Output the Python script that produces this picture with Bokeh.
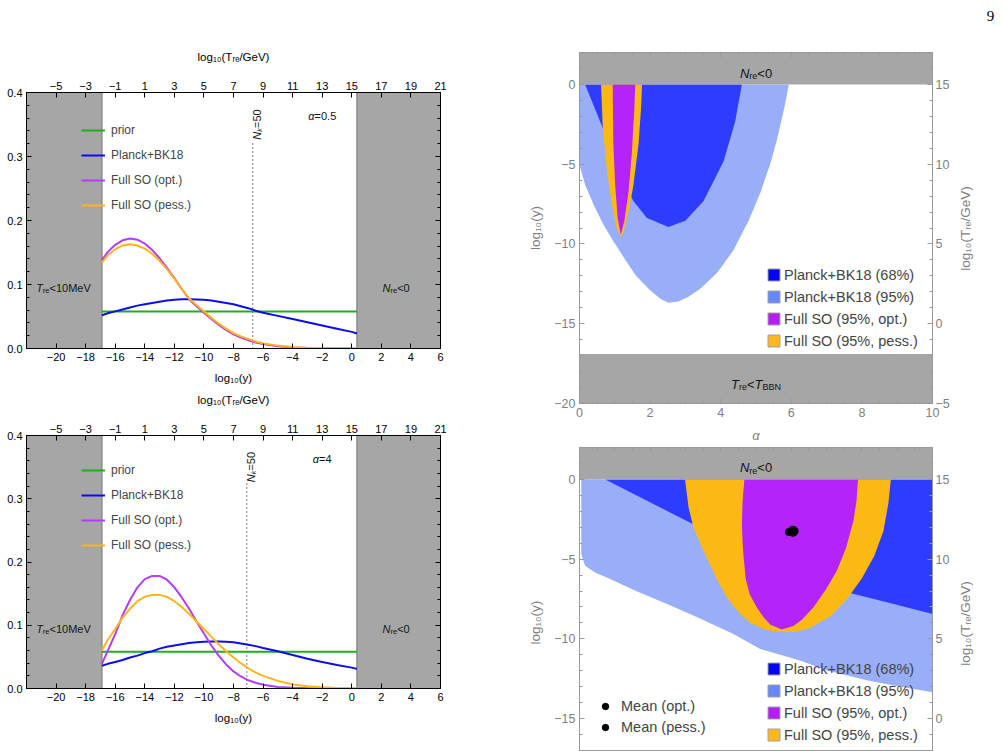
import math
from bokeh.plotting import figure
from bokeh.models import (Range1d, LinearAxis, FixedTicker, Label, Legend, LegendItem,
                          CustomJSTickFormatter)
from bokeh.layouts import row, column
from bokeh.embed import file_html
from bokeh.resources import INLINE

FONT = "Liberation Sans"
NAN = float("nan")

# ---------------- data: left panels (posteriors vs log10 y) ----------------
logy_grid = [-16.9, -16.5, -16, -15.5, -15, -14.5, -14, -13.5, -13, -12.5, -12, -11.5, -11,
             -10.5, -10, -9.5, -9, -8.5, -8, -7.5, -7, -6.5, -6, -5, -4, -3, -2, -1, 0, 0.35]
prior_x = [-16.9, 0.35]
prior_y = [0.058, 0.058]

a05_planck = [0.052, 0.055, 0.058, 0.061, 0.064, 0.067, 0.069, 0.071, 0.073, 0.075, 0.076, 0.077,
              0.077, 0.0765, 0.076, 0.075, 0.073, 0.071, 0.069, 0.066, 0.063, 0.059, 0.056, 0.051,
              0.046, 0.041, 0.036, 0.031, 0.026, 0.0235]
a05_opt = [0.138, 0.151, 0.162, 0.169, 0.172, 0.170, 0.164, 0.154, 0.141, 0.126, 0.110, 0.093,
           0.077, 0.066, 0.056, 0.046, 0.037, 0.029, 0.022, 0.017, 0.013, 0.0095, 0.007, 0.0035,
           0.0015, 0.0007, 0.0003, 0.0002, 0.0001, 0.0001]
a05_pess = [0.134, 0.146, 0.155, 0.161, 0.163, 0.161, 0.156, 0.148, 0.137, 0.124, 0.109, 0.093,
            0.078, 0.068, 0.058, 0.048, 0.039, 0.031, 0.024, 0.019, 0.015, 0.011, 0.008, 0.0045,
            0.0022, 0.0011, 0.0006, 0.0003, 0.0002, 0.0002]

a4_planck = [0.036, 0.039, 0.042, 0.045, 0.049, 0.052, 0.056, 0.059, 0.063, 0.066, 0.068, 0.070,
             0.072, 0.073, 0.074, 0.0745, 0.0745, 0.074, 0.073, 0.071, 0.069, 0.067, 0.064, 0.059,
             0.053, 0.047, 0.042, 0.037, 0.033, 0.031]
a4_opt = [0.039, 0.060, 0.086, 0.116, 0.140, 0.160, 0.173, 0.178, 0.178, 0.172, 0.160, 0.144,
          0.126, 0.106, 0.087, 0.068, 0.052, 0.038, 0.027, 0.019, 0.013, 0.009, 0.006, 0.0025,
          0.001, 0.0004, 0.0002, 0.0001, 0.0, 0.0]
a4_pess = [0.060, 0.077, 0.094, 0.112, 0.126, 0.138, 0.145, 0.148, 0.148, 0.145, 0.138, 0.129,
           0.118, 0.106, 0.094, 0.082, 0.070, 0.059, 0.049, 0.040, 0.032, 0.025, 0.020, 0.012,
           0.0065, 0.0035, 0.0018, 0.0009, 0.0005, 0.0004]

band_tre_left = [-22, -16.9]   # T_re < 10 MeV
band_nre_right = [0.35, 6]     # N_re < 0
nk50 = {"a05": -6.7, "a4": -7.1}
nk50_top = 0.325

left_xticks = [-20, -18, -16, -14, -12, -10, -8, -6, -4, -2, 0, 2, 4, 6]
left_tticks = [-5, -3, -1, 1, 3, 5, 7, 9, 11, 13, 15, 17, 19, 21]
left_yticks = [0, 0.1, 0.2, 0.3, 0.4]

# ---------------- data: right panels (alpha vs log10 y regions) ----------------
tr95_x = [0, 5.93, 5.8, 5.59, 5.4, 5.12, 4.8, 4.36, 3.9, 3.42, 3.1, 2.8, 2.52, 2.3, 2.0, 1.6, 1.3, 0.96, 0.68, 0.40, 0.16, 0]
tr95_y = [0, 0, -1.5, -3.5, -5.0, -6.8, -8.5, -10.4, -11.8, -12.8, -13.3, -13.6, -13.69, -13.45, -12.9, -12.0, -11.0, -9.83, -8.79, -7.54, -6.29, -5.04]
tr68_x = [0.16, 4.6, 4.41, 4.08, 3.51, 3.0, 2.52, 1.91, 1.53, 1.2, 0.9, 0.66]
tr68_y = [0, 0, -2.33, -4.83, -7.33, -8.55, -8.94, -8.38, -7.33, -5.8, -4.2, -2.75]
trpess_x = [0.61, 1.77, 1.75, 1.67, 1.53, 1.39, 1.25, 1.17, 1.04, 0.92, 0.78, 0.66]
trpess_y = [0, 0, -1.29, -3.79, -6.29, -7.96, -9.2, -9.58, -8.9, -7.54, -5.46, -2.75]
tropt_x = [0.94, 1.58, 1.55, 1.48, 1.39, 1.27, 1.17, 1.08, 1.01, 0.96]
tropt_y = [0, 0, -1.71, -4.42, -6.71, -8.58, -9.42, -8.38, -6.29, -3.79]

br95_x = [0.05, 10, 10, 8.9, 8.14, 7.01, 6.25, 5.12, 4.36, 3.4, 2.48, 1.6, 0.87, 0.44, 0.16, 0.05]
br95_y = [0, 0, -13.34, -12.92, -12.6, -11.98, -11.36, -10.63, -9.69, -8.7, -7.81, -7.0, -6.25, -5.84, -5.42, -4.69]
br68_x = [0.73, 10, 10, 8.9, 7.58, 5.4, 3.18]
br68_y = [0, 0, -8.44, -7.81, -7.08, -4.9, -2.77]
brpess_x = [2.99, 8.82, 8.75, 8.61, 8.35, 8.0, 7.58, 7.1, 6.54, 6.2, 5.87, 5.5, 5.21, 4.85, 4.55,
            4.2, 3.89, 3.51, 3.23, 3.09, 3.04]
brpess_y = [0, 0, -1.5, -3.23, -4.8, -6.2, -7.5, -8.6, -9.3, -9.52, -9.59, -9.53, -9.38, -9.0,
            -8.44, -7.5, -6.25, -4.48, -3.02, -1.77, -0.9]
bropt_x = [4.67, 7.89, 7.85, 7.76, 7.55, 7.29, 6.98, 6.63, 6.3, 6.06, 5.73, 5.4, 5.2, 5.02, 4.82,
           4.71, 4.65, 4.62, 4.6, 4.62]
bropt_y = [0, 0, -1.3, -2.6, -4.3, -5.73, -6.9, -8.02, -8.8, -9.19, -9.42, -9.1, -8.6, -8.02,
           -7.2, -6.25, -4.9, -4.0, -2.81, -1.4]
mean_opt = ([5.93], [-3.3])
mean_pess = ([6.05], [-3.25])

nre_band = [0, 2]
bbn_band = [-20, -16.9]
right_xticks = [0, 2, 4, 6, 8, 10]
right_yticks = [0, -5, -10, -15, -20]
right_tticks = [15, 10, 5, 0, -5]

# ---------------- styles ----------------
GRAY_BAND = "#a6a6a6"
C_PRIOR = "#1fae1f"
C_PLANCK = "#0c0cf2"
C_OPT = "#b23cf7"
C_PESS = "#ffb51a"
C_95 = "#98aef9"
C_68 = "#2e3cff"
C_ROPT = "#b424fa"
C_RPESS = "#fdb913"
AX_GRAY = "#9a9a9a"
LAB_GRAY = "#808080"
EM = "\u2003"
PAD = EM * 3 + "\u2002"   # pushes the visible title of the cut-off panel lower
TRE_LABEL = "log₁₀(Tᵣₑ/GeV)"

AW = {' ': 278, '(': 333, ')': 333, '/': 278, '0': 556, '1': 556, '2': 556, '3': 556, '4': 556,
      '5': 556, '6': 556, '7': 556, '8': 556, '9': 556, '<': 584, '=': 584, '.': 278, 'B': 667,
      'G': 778, 'M': 833, 'N': 722, 'T': 611, 'V': 667, 'e': 556, 'r': 333, 'k': 500, 'α': 578}


def tw(t, s):
    return sum(AW.get(c, 556) for c in t) * s / 1000.0


def rich(p, x, y, parts, angle=0.0, color="#151515"):
    total = sum(tw(t, s) for t, s, it, dy in parts)
    main = parts[0][1]
    off = -total / 2.0
    for t, s, it, dy in parts:
        base = -0.35 * main + dy
        if angle == 0:
            xo, yo = off, base
        else:
            xo, yo = -base, off
        p.add_layout(Label(x=x, y=y, x_offset=xo, y_offset=yo, text=t, angle=angle,
                           text_font=FONT, text_font_size=f"{s}px",
                           text_font_style="italic" if it else "normal",
                           text_align="left", text_baseline="alphabetic", text_color=color))
        off += tw(t, s)


def fmt(nd):
    return CustomJSTickFormatter(
        code="return (tick < -1e-9 ? '\\u2212' : '') + Math.abs(tick).toFixed(%d);" % nd)


def blank():
    return CustomJSTickFormatter(code="return '';")


def style_axis(ax, ticks, minor, formatter, color, lab_color, size, standoff=4, tick_in=5, minor_in=3):
    ax.ticker = FixedTicker(ticks=ticks, minor_ticks=minor)
    ax.formatter = formatter
    ax.axis_line_color = color
    ax.major_tick_line_color = color
    ax.minor_tick_line_color = color
    ax.major_tick_in = tick_in
    ax.major_tick_out = 0
    ax.minor_tick_in = minor_in
    ax.minor_tick_out = 0
    ax.major_label_text_font = FONT
    ax.major_label_text_font_size = size
    ax.major_label_text_color = lab_color
    ax.major_label_standoff = standoff
    ax.axis_label_text_font = FONT
    ax.axis_label_text_font_style = "normal"
    ax.axis_label_text_color = lab_color


def left_panel(height, top, bottom, key, alpha_txt, planck, opt, pess):
    p = figure(width=500, height=height, x_range=Range1d(-22, 6), y_range=Range1d(0, 0.4),
               output_backend="svg", toolbar_location=None,
               min_border_left=26, min_border_right=60, min_border_top=top, min_border_bottom=bottom,
               x_axis_location=None, y_axis_location=None)
    p.grid.visible = False
    p.outline_line_color = "black"
    p.extra_x_ranges = {"T": Range1d(-7, 21)}

    yminor = [round(0.02 * i, 2) for i in range(21)]
    xb = LinearAxis(axis_label="log₁₀(y)")
    style_axis(xb, left_xticks, [], fmt(0), "black", "black", "11px", standoff=4)
    xb.axis_label_text_font_size = "11.5px"
    xb.axis_label_standoff = 8
    p.add_layout(xb, "below")
    xt = LinearAxis(x_range_name="T", axis_label=TRE_LABEL)
    style_axis(xt, left_tticks, [], fmt(0), "black", "black", "11px", standoff=3)
    xt.axis_label_text_font_size = "11.5px"
    xt.axis_label_standoff = 16
    p.add_layout(xt, "above")
    yl = LinearAxis()
    style_axis(yl, left_yticks, yminor, fmt(1), "black", "black", "11px", standoff=4)
    p.add_layout(yl, "left")
    yr = LinearAxis()
    style_axis(yr, left_yticks, yminor, blank(), "black", "black", "11px", standoff=0)
    p.add_layout(yr, "right")

    p.quad(left=[band_tre_left[0], band_nre_right[0]], right=[band_tre_left[1], band_nre_right[1]],
           bottom=0, top=0.4, fill_color=GRAY_BAND, line_color=None)
    p.segment(x0=[band_tre_left[1], band_nre_right[0]], y0=0, x1=[band_tre_left[1], band_nre_right[0]],
              y1=0.4, line_color="#8c8c8c", line_width=1.5)
    nk = nk50[key]
    p.segment(x0=[nk], y0=[0], x1=[nk], y1=[nk50_top], line_color="black", line_width=1,
              line_dash="1 3")

    r1 = p.line(prior_x, prior_y, line_color=C_PRIOR, line_width=2)
    r2 = p.line(logy_grid, planck, line_color=C_PLANCK, line_width=2)
    r3 = p.line(logy_grid, opt, line_color=C_OPT, line_width=2)
    r4 = p.line(logy_grid, pess, line_color=C_PESS, line_width=2)

    leg = Legend(items=[LegendItem(label="prior", renderers=[r1]),
                        LegendItem(label="Planck+BK18", renderers=[r2]),
                        LegendItem(label="Full SO (opt.)", renderers=[r3]),
                        LegendItem(label="Full SO (pess.)", renderers=[r4])],
                 location=(55, 133), label_text_font=FONT, label_text_font_size="12px",
                 glyph_width=24, glyph_height=20, label_height=20, spacing=5, padding=0,
                 margin=0, border_line_color=None, background_fill_alpha=0, label_standoff=6)
    p.add_layout(leg)

    rich(p, -19.5, 0.1, [("T", 11, True, 0), ("re", 7.5, False, -2.5), ("<10MeV", 11, False, 0)])
    rich(p, 3.0, 0.1, [("N", 11, True, 0), ("re", 7.5, False, -2.5), ("<0", 11, False, 0)])
    rich(p, -2.0, 0.369, [("α", 11, True, 0), (alpha_txt, 11, False, 0)])
    rich(p, nk + 0.05, 0.35, [("N", 11, True, 0), ("k", 7.5, True, -2.5), ("=50", 11, False, 0)],
         angle=math.pi / 2)
    return p


def right_axes(p, show_bottom, yticks, tticks, ylab):
    xminor = [0.5 * i for i in range(21)]
    yminor = list(range(-20, 3))
    if show_bottom:
        xb = LinearAxis(axis_label="α")
        style_axis(xb, right_xticks, xminor, fmt(0), AX_GRAY, LAB_GRAY, "12.5px", standoff=4)
        xb.axis_label_text_font_style = "italic"
        xb.axis_label_text_font_size = "13px"
        xb.axis_label_standoff = 8
        p.add_layout(xb, "below")
    xt = LinearAxis()
    style_axis(xt, right_xticks, xminor, blank(), AX_GRAY, LAB_GRAY, "0px", standoff=0)
    p.add_layout(xt, "above")
    yl = LinearAxis(axis_label=ylab)
    style_axis(yl, yticks, yminor, fmt(0), AX_GRAY, LAB_GRAY, "12.5px", standoff=4)
    yl.axis_label_text_font_size = "13.5px"
    yl.axis_label_standoff = 8
    p.add_layout(yl, "left")
    yr = LinearAxis(y_range_name="T")
    style_axis(yr, tticks, list(range(-5, 18)), fmt(0), AX_GRAY, LAB_GRAY, "12.5px", standoff=3)
    p.add_layout(yr, "right")


def right_regions(p, r95, r68, rpess, ropt):
    p.patch(r95[0], r95[1], fill_color=C_95, line_color=None)
    p.patch(r68[0], r68[1], fill_color=C_68, line_color=None)
    p.patch(rpess[0], rpess[1], fill_color=C_RPESS, line_color=None)
    p.patch(ropt[0], ropt[1], fill_color=C_ROPT, line_color=None)


def region_legend(p, loc):
    swatches = [("Planck+BK18 (68%)", "#0505f0"), ("Planck+BK18 (95%)", "#6688ff"),
                ("Full SO (95%, opt.)", "#b41ef5"), ("Full SO (95%, pess.)", "#ffb81c")]
    items = []
    for lab, c in swatches:
        r = p.rect(x=[NAN], y=[NAN], width=1, height=1, fill_color=c, line_color="#a0a0a0",
                   line_width=1)
        items.append(LegendItem(label=lab, renderers=[r]))
    leg = Legend(items=items, location=loc, label_text_font=FONT, label_text_font_size="14.5px",
                 glyph_width=15, glyph_height=15, label_height=19, spacing=3, padding=0, margin=0,
                 border_line_color=None, background_fill_alpha=0, label_standoff=3)
    p.add_layout(leg)


# ---------------- build figures ----------------
p1 = left_panel(390, 92, 42, "a05", "=0.5", a05_planck, a05_opt, a05_pess)
p2 = left_panel(361, 42, 63, "a4", "=4", a4_planck, a4_opt, a4_pess)

# top-right
p3 = figure(width=452, height=445, x_range=Range1d(0, 10), y_range=Range1d(-20, 2),
            output_backend="svg", toolbar_location=None,
            min_border_left=79, min_border_right=20, min_border_top=52, min_border_bottom=41,
            x_axis_location=None, y_axis_location=None)
p3.extra_y_ranges = {"T": Range1d(-5, 17)}
p3.grid.visible = False
p3.outline_line_color = AX_GRAY
right_axes(p3, True, right_yticks, right_tticks, "log₁₀(y)")
right_regions(p3, (tr95_x, tr95_y), (tr68_x, tr68_y), (trpess_x, trpess_y), (tropt_x, tropt_y))
p3.quad(left=0, right=10, bottom=[nre_band[0], bbn_band[0]], top=[nre_band[1], bbn_band[1]],
        fill_color=GRAY_BAND, line_color=None)
region_legend(p3, (187, 53))
rich(p3, 5.0, 1.0, [("N", 13, True, 0), ("re", 9, False, -3), ("<0", 13, False, 0)])
rich(p3, 5.0, -18.5, [("T", 13, True, 0), ("re", 9, False, -3), ("<", 13, False, 0),
                      ("T", 13, True, 0), ("BBN", 9, False, -3)])

# bottom-right (panel continues below the page edge, so its axis titles sit lower)
p4 = figure(width=452, height=306, x_range=Range1d(0, 10), y_range=Range1d(-17, 2),
            output_backend="svg", toolbar_location=None,
            min_border_left=79, min_border_right=20, min_border_top=2, min_border_bottom=1,
            x_axis_location=None, y_axis_location=None)
p4.extra_y_ranges = {"T": Range1d(-2, 17)}
p4.grid.visible = False
p4.outline_line_color = AX_GRAY
right_axes(p4, False, [0, -5, -10, -15], [15, 10, 5, 0], "log₁₀(y)" + PAD)
right_regions(p4, (br95_x, br95_y), (br68_x, br68_y), (brpess_x, brpess_y), (bropt_x, bropt_y))
p4.quad(left=0, right=10, bottom=nre_band[0], top=nre_band[1], fill_color=GRAY_BAND, line_color=None)
rm_p = p4.scatter(mean_pess[0], mean_pess[1], size=10, fill_color="black", line_color="black")
rm_o = p4.scatter(mean_opt[0], mean_opt[1], size=7, fill_color="black", line_color="black")
region_legend(p4, (187, 6))
leg_m = Legend(items=[LegendItem(label="Mean (opt.)", renderers=[rm_o]),
                      LegendItem(label="Mean (pess.)", renderers=[rm_p])],
               location=(18, 14), label_text_font=FONT, label_text_font_size="14.5px",
               glyph_width=16, glyph_height=16, label_height=18, spacing=3, padding=0, margin=0,
               border_line_color=None, background_fill_alpha=0, label_standoff=8)
p4.add_layout(leg_m)
rich(p4, 5.0, 1.0, [("N", 13, True, 0), ("re", 9, False, -3), ("<0", 13, False, 0)])

# right-hand strip: page number and the upward-reading right axis titles (pixel coordinates)
qs = figure(width=52, height=751, x_range=Range1d(0, 52), y_range=Range1d(0, 751),
            output_backend="svg", toolbar_location=None,
            min_border_left=0, min_border_right=0, min_border_top=0, min_border_bottom=0,
            x_axis_location=None, y_axis_location=None)
qs.grid.visible = False
qs.outline_line_color = None
qs.add_layout(Label(x=38, y=736, text="9", text_font="Liberation Serif", text_font_size="15px",
                    text_color="black", text_align="center", text_baseline="middle"))
for yy in (751 - 228, 751 - 623):
    qs.add_layout(Label(x=13, y=yy, text=TRE_LABEL, angle=math.pi / 2, text_font=FONT,
                        text_font_size="13.5px", text_color=LAB_GRAY, text_align="center",
                        text_baseline="middle"))

layout = row(column(p1, p2, spacing=0), column(p3, p4, spacing=0), qs, spacing=0)
open("out.html", "w").write(file_html(layout, INLINE))
